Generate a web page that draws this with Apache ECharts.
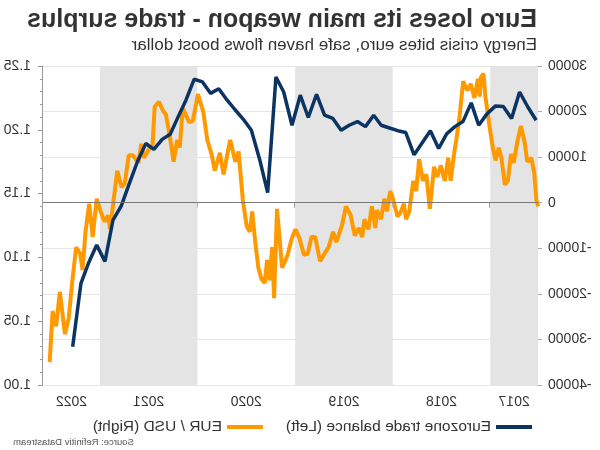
<!DOCTYPE html>
<html>
<head>
<meta charset="utf-8">
<script src="https://cdn.jsdelivr.net/npm/echarts@6/dist/echarts.min.js"></script>
<style>
html,body{margin:0;padding:0;background:#fff;}
#wrap{width:600px;height:450px;transform:scaleX(-1);}
#chart{width:600px;height:450px;}
</style>
</head>
<body>
<div id="wrap"><div id="chart"></div></div>
<script>
// Eurozone trade balance (EUR mn), monthly
const tradeDates = ['2017-07-13','2017-08-13','2017-09-13','2017-10-13','2017-11-13','2017-12-13',
 '2018-01-13','2018-02-13','2018-03-13','2018-04-13','2018-05-13','2018-06-13','2018-07-13','2018-08-13','2018-09-13','2018-10-13','2018-11-13','2018-12-13',
 '2019-01-13','2019-02-13','2019-03-13','2019-04-13','2019-05-13','2019-06-13','2019-07-13','2019-08-13','2019-09-13','2019-10-13','2019-11-13','2019-12-13',
 '2020-01-13','2020-02-13','2020-03-13','2020-04-13','2020-05-13','2020-06-13','2020-07-13','2020-08-13','2020-09-13','2020-10-13','2020-11-13','2020-12-13',
 '2021-01-13','2021-02-13','2021-03-13','2021-04-13','2021-05-13','2021-06-13','2021-07-13','2021-08-13','2021-09-13','2021-10-13','2021-11-13','2021-12-13',
 '2022-01-13','2022-02-13','2022-03-13','2022-04-13'];
const tradeValues = [18100,21000,24300,18500,21100,21200,
 19500,17000,21900,17800,16700,15100,11900,15800,13100,10500,15400,15800,
 16400,17000,19200,16700,17800,17000,15900,18500,19200,23800,18700,23600,
 17000,24300,27600,2200,9500,15900,18300,20400,22600,25000,24000,26500,
 27100,22500,19000,15000,13900,11700,13000,9100,4200,-700,-3800,-12900,
 -9300,-13300,-17700,-31600];

// EUR / USD
const eurDates = ['2017-07-05','2017-07-12','2017-07-20','2017-07-31','2017-08-15','2017-08-25','2017-09-08','2017-09-22',
 '2017-10-05','2017-10-15','2017-10-27','2017-11-07','2017-11-20','2017-11-30','2017-12-12','2017-12-22',
 '2018-01-03','2018-01-12','2018-01-19','2018-01-26','2018-02-05','2018-02-09','2018-02-16','2018-03-01','2018-03-15','2018-03-28',
 '2018-04-12','2018-04-27','2018-05-08','2018-05-15','2018-05-29','2018-06-07','2018-06-20','2018-07-05','2018-07-18','2018-07-30',
 '2018-08-15','2018-08-28','2018-09-10','2018-09-24','2018-10-05','2018-10-16','2018-10-31','2018-11-12','2018-11-20','2018-12-03','2018-12-14','2018-12-31',
 '2019-01-10','2019-01-23','2019-02-01','2019-02-14','2019-03-01','2019-03-07','2019-03-20','2019-04-02','2019-04-17','2019-04-25',
 '2019-05-08','2019-05-23','2019-06-07','2019-06-25','2019-07-10','2019-07-31','2019-08-12','2019-08-29','2019-09-10','2019-09-30',
 '2019-10-18','2019-11-01','2019-11-15','2019-11-29','2019-12-16','2019-12-31',
 '2020-01-15','2020-01-29','2020-02-19','2020-03-09','2020-03-20','2020-03-27','2020-04-06','2020-04-15','2020-04-24','2020-05-06','2020-05-18','2020-05-29',
 '2020-06-10','2020-06-19','2020-07-01','2020-07-15','2020-07-31','2020-08-12','2020-08-31','2020-09-10','2020-09-25','2020-10-09','2020-10-28',
 '2020-11-09','2020-11-25','2020-12-10','2020-12-30',
 '2021-01-06','2021-01-18','2021-02-01','2021-02-25','2021-03-08','2021-03-18','2021-03-31','2021-04-15','2021-04-29','2021-05-10','2021-05-25',
 '2021-06-10','2021-06-18','2021-07-01','2021-07-20','2021-07-30','2021-08-10','2021-08-30','2021-09-15','2021-09-30','2021-10-12','2021-10-28',
 '2021-11-10','2021-11-24','2021-12-01','2021-12-15','2021-12-31',
 '2022-01-13','2022-01-28','2022-02-10','2022-02-24','2022-03-07','2022-03-16','2022-03-31','2022-04-14','2022-04-28','2022-05-12','2022-05-31',
 '2022-06-14','2022-06-27','2022-07-08'];
const eurValues = [1.140,1.145,1.166,1.178,1.175,1.190,1.203,1.190,
 1.174,1.181,1.160,1.157,1.178,1.186,1.176,1.186,
 1.202,1.216,1.226,1.244,1.241,1.226,1.240,1.225,1.236,1.231,
 1.238,1.208,1.192,1.183,1.160,1.178,1.160,1.172,1.163,1.171,
 1.138,1.165,1.160,1.177,1.152,1.160,1.136,1.130,1.142,1.135,1.132,1.146,
 1.152,1.136,1.146,1.130,1.137,1.123,1.140,1.122,1.130,1.116,
 1.123,1.117,1.133,1.140,1.125,1.112,1.120,1.108,1.104,1.097,
 1.116,1.116,1.103,1.102,1.115,1.122,
 1.114,1.102,1.092,1.138,1.068,1.108,1.082,1.098,1.080,1.083,1.092,1.111,
 1.136,1.120,1.125,1.145,1.183,1.175,1.192,1.182,1.165,1.182,1.168,
 1.181,1.192,1.214,1.228,
 1.228,1.207,1.206,1.217,1.186,1.192,1.175,1.196,1.212,1.215,1.222,
 1.218,1.188,1.185,1.178,1.189,1.174,1.180,1.180,1.158,1.155,1.168,
 1.146,1.122,1.133,1.128,1.137,
 1.146,1.116,1.142,1.120,1.090,1.103,1.108,1.082,1.052,1.040,1.073,
 1.046,1.058,1.018];

const yearNames = ['2017','2018','2019','2020','2021','2022'];
const yearStarts = ['2017-07-06','2018-01-01','2019-01-01','2020-01-01','2021-01-01','2022-01-01'];
const yearEnds = ['2018-01-01','2019-01-01','2020-01-01','2021-01-01','2022-01-01','2022-08-02'];
const tradeTicks = [-40000,-30000,-20000,-10000,0,10000,20000,30000];
const eurTicks = [1.00,1.05,1.10,1.15,1.20,1.25];

const FONT = 'Arial, "Liberation Sans", Helvetica, sans-serif';
const bands = yearNames.map((n,i)=>[
  {name:n, xAxis:yearStarts[i], itemStyle:{color: i%2===0 ? '#e4e4e4' : 'rgba(0,0,0,0)'}},
  {xAxis:yearEnds[i]}
]);

const chart = echarts.init(document.getElementById('chart'), null, {renderer:'canvas'});
chart.setOption({
  animation:false,
  textStyle:{fontFamily:FONT},
  title:{
    text:'Euro loses its main weapon - trade surplus',
    subtext:'Energy crisis bites euro, safe haven flows boost dollar',
    left:58, top:3, itemGap:4,
    textStyle:{fontSize:25, fontWeight:'bold', color:'#333', fontFamily:FONT},
    subtextStyle:{fontSize:17, color:'#333', fontFamily:FONT}
  },
  legend:{
    left:63, top:414, icon:'rect', itemWidth:36, itemHeight:4, itemGap:23,
    textStyle:{fontSize:15.5, color:'#333', fontFamily:FONT},
    data:['Eurozone trade balance (Left)','EUR / USD (Right)']
  },
  graphic:[{type:'text', right:13, top:437, style:{text:'Source: Refinitiv Datastream', fontSize:9.5, fill:'#555', fontFamily:FONT}}],
  grid:{left:62, right:43, top:66, bottom:65},
  xAxis:{
    type:'time', min:yearStarts[0], max:yearEnds[yearEnds.length-1],
    axisLabel:{show:false},
    axisTick:{show:true, length:5, lineStyle:{color:'#999'}},
    axisLine:{lineStyle:{color:'#aaa'}},
    splitLine:{show:false}
  },
  yAxis:[
    {type:'value', position:'left', min:tradeTicks[0], max:tradeTicks[tradeTicks.length-1], interval:10000,
     axisLine:{show:true, lineStyle:{color:'#aaa'}},
     axisTick:{show:true, length:4, lineStyle:{color:'#aaa'}},
     axisLabel:{fontSize:14, color:'#333', margin:10, fontFamily:FONT, formatter:v=>String(v)},
     splitLine:{show:true, lineStyle:{color:'#e6e6e6'}}},
    {type:'value', position:'right', min:eurTicks[0], max:eurTicks[eurTicks.length-1], interval:0.05,
     axisLine:{show:true, lineStyle:{color:'#999'}},
     axisTick:{show:true, length:5, lineStyle:{color:'#999'}},
     minorTick:{show:true, splitNumber:5, length:3, lineStyle:{color:'#999'}},
     axisLabel:{fontSize:14, color:'#333', margin:12, fontFamily:FONT, formatter:v=>v.toFixed(2)},
     splitLine:{show:false}}
  ],
  series:[
    {type:'line', name:'bands', yAxisIndex:0, data:[], z:1, silent:true,
     markArea:{silent:true, label:{show:true, position:'bottom', distance:10, fontSize:14, color:'#333', fontFamily:FONT}, data:bands}},
    {type:'line', name:'zero', yAxisIndex:0, data:[], z:1.5, silent:true,
     markLine:{silent:true, symbol:'none', label:{show:false}, lineStyle:{color:'#777', width:1, type:'solid'}, data:[{yAxis:0}]}},
    {type:'line', name:'EUR / USD (Right)', yAxisIndex:1, z:3, symbol:'none',
     data:eurDates.map((d,i)=>[d,eurValues[i]]),
     lineStyle:{color:'#ff9900', width:4}, itemStyle:{color:'#ff9900'}},
    {type:'line', name:'Eurozone trade balance (Left)', yAxisIndex:0, z:4, symbol:'none',
     data:tradeDates.map((d,i)=>[d,tradeValues[i]]),
     lineStyle:{color:'#0b3463', width:3.5}, itemStyle:{color:'#0b3463'}}
  ]
});
</script>
</body>
</html>
